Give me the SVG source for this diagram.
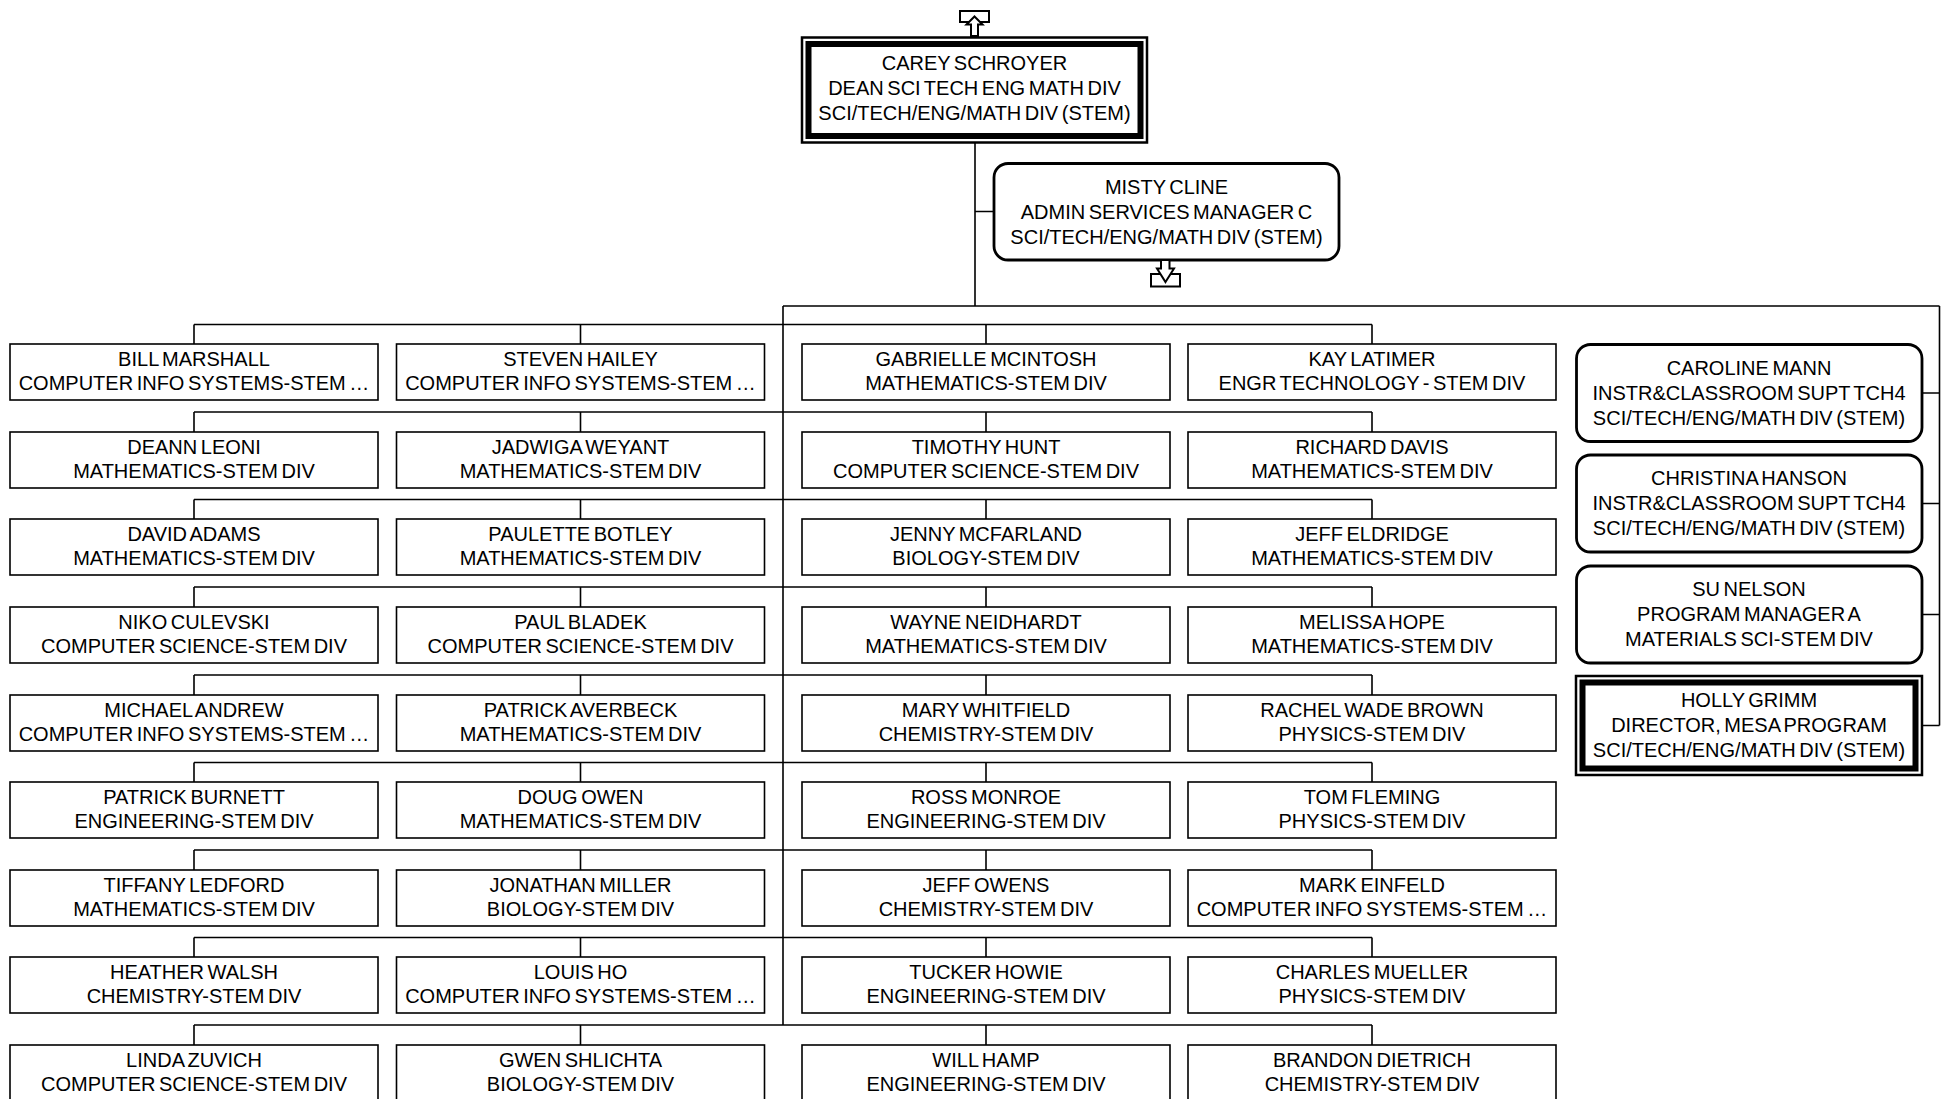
<svg xmlns="http://www.w3.org/2000/svg" width="1949" height="1099" viewBox="0 0 1949 1099">
<style>
.box{fill:#fff;stroke:#000;stroke-width:1.6}
.rbox{fill:#fff;stroke:#000;stroke-width:2.8}
.dout{fill:#fff;stroke:#000;stroke-width:2.5}
.din{fill:none;stroke:#000;stroke-width:6}
.conn{fill:none;stroke:#000;stroke-width:1.6}
.icon{fill:#fff;stroke:#000;stroke-width:2}
text{font-family:"Liberation Sans",Arial,sans-serif;font-size:20px;text-anchor:middle;fill:#000;word-spacing:-2px}
</style>
<rect width="1949" height="1099" fill="#fff"/>
<g id="connectors">
<path class="conn" d="M975,143V306M975,211.5H994M783,306H1939.5M783,306V1025M1939.5,306V725.5"/>
<path class="conn" d="M1922,393H1939.5M1922,503.5H1939.5M1922,614.5H1939.5M1922,725.5H1939.5"/>
<path class="conn" d="M194,324.5H1372M194,324.5V344M580.5,324.5V344M986,324.5V344M1372,324.5V344"/>
<path class="conn" d="M194,412H1372M194,412V432M580.5,412V432M986,412V432M1372,412V432"/>
<path class="conn" d="M194,499.5H1372M194,499.5V519M580.5,499.5V519M986,499.5V519M1372,499.5V519"/>
<path class="conn" d="M194,587H1372M194,587V607M580.5,587V607M986,587V607M1372,587V607"/>
<path class="conn" d="M194,675H1372M194,675V695M580.5,675V695M986,675V695M1372,675V695"/>
<path class="conn" d="M194,762.5H1372M194,762.5V782M580.5,762.5V782M986,762.5V782M1372,762.5V782"/>
<path class="conn" d="M194,850H1372M194,850V870M580.5,850V870M986,850V870M1372,850V870"/>
<path class="conn" d="M194,937.5H1372M194,937.5V957M580.5,937.5V957M986,937.5V957M1372,937.5V957"/>
<path class="conn" d="M194,1025H1372M194,1025V1045M580.5,1025V1045M986,1025V1045M1372,1025V1045"/>
</g>
<g id="icon-up">
<rect class="icon" x="960" y="11" width="29" height="11"/>
<path class="icon" d="M974.5,16.5L982.5,24.5H978V36H971V24.5H966.5Z"/>
</g>
<g id="carey">
<rect class="dout" x="802" y="37.5" width="345" height="105"/>
<rect class="din" x="808.5" y="44" width="332" height="92"/>
<text x="974.5" y="69.5">CAREY SCHROYER</text>
<text x="974.5" y="94.5">DEAN SCI TECH ENG MATH DIV</text>
<text x="974.5" y="119.5">SCI/TECH/ENG/MATH DIV (STEM)</text>
</g>
<g id="misty">
<rect class="rbox" x="994" y="163.5" width="345" height="96.5" rx="14"/>
<text x="1166.5" y="194">MISTY CLINE</text>
<text x="1166.5" y="219">ADMIN SERVICES MANAGER C</text>
<text x="1166.5" y="244">SCI/TECH/ENG/MATH DIV (STEM)</text>
</g>
<g id="icon-down">
<rect class="icon" x="1151" y="274" width="29" height="12.5"/>
<path class="icon" d="M1165.5,282L1174,268.5H1169.5V260H1161V268.5H1157Z"/>
</g>
<g id="caroline">
<rect class="rbox" x="1576.5" y="344.5" width="345.5" height="97" rx="14"/>
<text x="1749" y="374.5">CAROLINE MANN</text>
<text x="1749" y="399.5">INSTR&amp;CLASSROOM SUPT TCH4</text>
<text x="1749" y="424.5">SCI/TECH/ENG/MATH DIV (STEM)</text>
</g>
<g id="christina">
<rect class="rbox" x="1576.5" y="455" width="345.5" height="97" rx="14"/>
<text x="1749" y="485">CHRISTINA HANSON</text>
<text x="1749" y="510">INSTR&amp;CLASSROOM SUPT TCH4</text>
<text x="1749" y="535">SCI/TECH/ENG/MATH DIV (STEM)</text>
</g>
<g id="su">
<rect class="rbox" x="1576.5" y="566" width="345.5" height="97" rx="14"/>
<text x="1749" y="596">SU NELSON</text>
<text x="1749" y="621">PROGRAM MANAGER A</text>
<text x="1749" y="646">MATERIALS SCI-STEM DIV</text>
</g>
<g id="holly">
<rect class="dout" x="1576" y="676" width="346" height="99"/>
<rect class="din" x="1582.5" y="682.5" width="333" height="86"/>
<text x="1749" y="707">HOLLY GRIMM</text>
<text x="1749" y="732">DIRECTOR, MESA PROGRAM</text>
<text x="1749" y="757">SCI/TECH/ENG/MATH DIV (STEM)</text>
</g>
<g id="r1c1"><rect class="box" x="10" y="344" width="368" height="56"/><text x="194" y="366">BILL MARSHALL</text><text x="194" y="390">COMPUTER INFO SYSTEMS-STEM …</text></g>
<g id="r1c2"><rect class="box" x="396.5" y="344" width="368" height="56"/><text x="580.5" y="366">STEVEN HAILEY</text><text x="580.5" y="390">COMPUTER INFO SYSTEMS-STEM …</text></g>
<g id="r1c3"><rect class="box" x="802" y="344" width="368" height="56"/><text x="986" y="366">GABRIELLE MCINTOSH</text><text x="986" y="390">MATHEMATICS-STEM DIV</text></g>
<g id="r1c4"><rect class="box" x="1188" y="344" width="368" height="56"/><text x="1372" y="366">KAY LATIMER</text><text x="1372" y="390">ENGR TECHNOLOGY - STEM DIV</text></g>
<g id="r2c1"><rect class="box" x="10" y="432" width="368" height="56"/><text x="194" y="454">DEANN LEONI</text><text x="194" y="478">MATHEMATICS-STEM DIV</text></g>
<g id="r2c2"><rect class="box" x="396.5" y="432" width="368" height="56"/><text x="580.5" y="454">JADWIGA WEYANT</text><text x="580.5" y="478">MATHEMATICS-STEM DIV</text></g>
<g id="r2c3"><rect class="box" x="802" y="432" width="368" height="56"/><text x="986" y="454">TIMOTHY HUNT</text><text x="986" y="478">COMPUTER SCIENCE-STEM DIV</text></g>
<g id="r2c4"><rect class="box" x="1188" y="432" width="368" height="56"/><text x="1372" y="454">RICHARD DAVIS</text><text x="1372" y="478">MATHEMATICS-STEM DIV</text></g>
<g id="r3c1"><rect class="box" x="10" y="519" width="368" height="56"/><text x="194" y="541">DAVID ADAMS</text><text x="194" y="565">MATHEMATICS-STEM DIV</text></g>
<g id="r3c2"><rect class="box" x="396.5" y="519" width="368" height="56"/><text x="580.5" y="541">PAULETTE BOTLEY</text><text x="580.5" y="565">MATHEMATICS-STEM DIV</text></g>
<g id="r3c3"><rect class="box" x="802" y="519" width="368" height="56"/><text x="986" y="541">JENNY MCFARLAND</text><text x="986" y="565">BIOLOGY-STEM DIV</text></g>
<g id="r3c4"><rect class="box" x="1188" y="519" width="368" height="56"/><text x="1372" y="541">JEFF ELDRIDGE</text><text x="1372" y="565">MATHEMATICS-STEM DIV</text></g>
<g id="r4c1"><rect class="box" x="10" y="607" width="368" height="56"/><text x="194" y="629">NIKO CULEVSKI</text><text x="194" y="653">COMPUTER SCIENCE-STEM DIV</text></g>
<g id="r4c2"><rect class="box" x="396.5" y="607" width="368" height="56"/><text x="580.5" y="629">PAUL BLADEK</text><text x="580.5" y="653">COMPUTER SCIENCE-STEM DIV</text></g>
<g id="r4c3"><rect class="box" x="802" y="607" width="368" height="56"/><text x="986" y="629">WAYNE NEIDHARDT</text><text x="986" y="653">MATHEMATICS-STEM DIV</text></g>
<g id="r4c4"><rect class="box" x="1188" y="607" width="368" height="56"/><text x="1372" y="629">MELISSA HOPE</text><text x="1372" y="653">MATHEMATICS-STEM DIV</text></g>
<g id="r5c1"><rect class="box" x="10" y="695" width="368" height="56"/><text x="194" y="717">MICHAEL ANDREW</text><text x="194" y="741">COMPUTER INFO SYSTEMS-STEM …</text></g>
<g id="r5c2"><rect class="box" x="396.5" y="695" width="368" height="56"/><text x="580.5" y="717">PATRICK AVERBECK</text><text x="580.5" y="741">MATHEMATICS-STEM DIV</text></g>
<g id="r5c3"><rect class="box" x="802" y="695" width="368" height="56"/><text x="986" y="717">MARY WHITFIELD</text><text x="986" y="741">CHEMISTRY-STEM DIV</text></g>
<g id="r5c4"><rect class="box" x="1188" y="695" width="368" height="56"/><text x="1372" y="717">RACHEL WADE BROWN</text><text x="1372" y="741">PHYSICS-STEM DIV</text></g>
<g id="r6c1"><rect class="box" x="10" y="782" width="368" height="56"/><text x="194" y="804">PATRICK BURNETT</text><text x="194" y="828">ENGINEERING-STEM DIV</text></g>
<g id="r6c2"><rect class="box" x="396.5" y="782" width="368" height="56"/><text x="580.5" y="804">DOUG OWEN</text><text x="580.5" y="828">MATHEMATICS-STEM DIV</text></g>
<g id="r6c3"><rect class="box" x="802" y="782" width="368" height="56"/><text x="986" y="804">ROSS MONROE</text><text x="986" y="828">ENGINEERING-STEM DIV</text></g>
<g id="r6c4"><rect class="box" x="1188" y="782" width="368" height="56"/><text x="1372" y="804">TOM FLEMING</text><text x="1372" y="828">PHYSICS-STEM DIV</text></g>
<g id="r7c1"><rect class="box" x="10" y="870" width="368" height="56"/><text x="194" y="892">TIFFANY LEDFORD</text><text x="194" y="916">MATHEMATICS-STEM DIV</text></g>
<g id="r7c2"><rect class="box" x="396.5" y="870" width="368" height="56"/><text x="580.5" y="892">JONATHAN MILLER</text><text x="580.5" y="916">BIOLOGY-STEM DIV</text></g>
<g id="r7c3"><rect class="box" x="802" y="870" width="368" height="56"/><text x="986" y="892">JEFF OWENS</text><text x="986" y="916">CHEMISTRY-STEM DIV</text></g>
<g id="r7c4"><rect class="box" x="1188" y="870" width="368" height="56"/><text x="1372" y="892">MARK EINFELD</text><text x="1372" y="916">COMPUTER INFO SYSTEMS-STEM …</text></g>
<g id="r8c1"><rect class="box" x="10" y="957" width="368" height="56"/><text x="194" y="979">HEATHER WALSH</text><text x="194" y="1003">CHEMISTRY-STEM DIV</text></g>
<g id="r8c2"><rect class="box" x="396.5" y="957" width="368" height="56"/><text x="580.5" y="979">LOUIS HO</text><text x="580.5" y="1003">COMPUTER INFO SYSTEMS-STEM …</text></g>
<g id="r8c3"><rect class="box" x="802" y="957" width="368" height="56"/><text x="986" y="979">TUCKER HOWIE</text><text x="986" y="1003">ENGINEERING-STEM DIV</text></g>
<g id="r8c4"><rect class="box" x="1188" y="957" width="368" height="56"/><text x="1372" y="979">CHARLES MUELLER</text><text x="1372" y="1003">PHYSICS-STEM DIV</text></g>
<g id="r9c1"><rect class="box" x="10" y="1045" width="368" height="56"/><text x="194" y="1067">LINDA ZUVICH</text><text x="194" y="1091">COMPUTER SCIENCE-STEM DIV</text></g>
<g id="r9c2"><rect class="box" x="396.5" y="1045" width="368" height="56"/><text x="580.5" y="1067">GWEN SHLICHTA</text><text x="580.5" y="1091">BIOLOGY-STEM DIV</text></g>
<g id="r9c3"><rect class="box" x="802" y="1045" width="368" height="56"/><text x="986" y="1067">WILL HAMP</text><text x="986" y="1091">ENGINEERING-STEM DIV</text></g>
<g id="r9c4"><rect class="box" x="1188" y="1045" width="368" height="56"/><text x="1372" y="1067">BRANDON DIETRICH</text><text x="1372" y="1091">CHEMISTRY-STEM DIV</text></g>
</svg>
